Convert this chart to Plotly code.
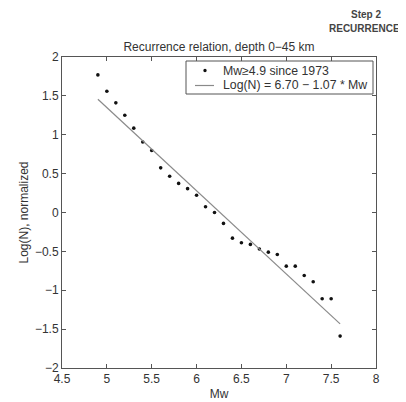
import plotly.graph_objects as go

mw = [4.9, 5.0, 5.1, 5.2, 5.3, 5.4, 5.5, 5.6, 5.7, 5.8, 5.9, 6.0, 6.1, 6.2,
      6.3, 6.4, 6.5, 6.6, 6.7, 6.8, 6.9, 7.0, 7.1, 7.2, 7.3, 7.4, 7.5, 7.6]
logn = [1.77, 1.56, 1.41, 1.25, 1.085, 0.907, 0.797, 0.574, 0.467, 0.374, 0.307, 0.222, 0.074, 0.0,
        -0.14, -0.33, -0.39, -0.41, -0.47, -0.51, -0.54, -0.69, -0.69, -0.81, -0.89, -1.11, -1.11, -1.59]
fit_a = 6.70
fit_b = 1.07
fit_x = [4.9, 7.6]
fit_y = [fit_a - fit_b * x for x in fit_x]

x_ticks = [4.5, 5, 5.5, 6, 6.5, 7, 7.5, 8]
x_tick_labels = ["4.5", "5", "5.5", "6", "6.5", "7", "7.5", "8"]
y_ticks = [-2, -1.5, -1, -0.5, 0, 0.5, 1, 1.5, 2]
y_tick_labels = ["\u22122", "\u22121.5", "\u22121", "\u22120.5", "0", "0.5", "1", "1.5", "2"]
legend_labels = ["Mw\u22654.9 since 1973", "Log(N) = 6.70 \u2212 1.07 * Mw"]

font = "Liberation Sans, Arial, Helvetica, sans-serif"
axcol = "#555555"
txtcol = "#333333"
# page body has an 8px margin; figure is sized to fit the remaining window
OFF = 8
W, H = 406 - OFF, 402 - OFF
# plot area in screen pixels
SX0, SX1, SY0, SY1 = 62, 376, 57, 368
L, R, T, B = SX0 - OFF, W - (SX1 - OFF), SY0 - OFF, H - (SY1 - OFF)
pw, ph = SX1 - SX0, SY1 - SY0
dot_col = "#111111"
line_col = "#8a8a8a"


def px(xpix):
    return (xpix - SX0) / pw


def py(ypix):
    return (SY1 - ypix) / ph


fig = go.Figure()
fig.add_trace(go.Scatter(x=mw, y=logn, mode="markers",
                         marker=dict(color=dot_col, size=3.6),
                         name=legend_labels[0], showlegend=False))
fig.add_trace(go.Scatter(x=fit_x, y=fit_y, mode="lines",
                         line=dict(color=line_col, width=1.2),
                         name=legend_labels[1], showlegend=False))

axis_common = dict(showgrid=False, zeroline=False, showline=True, linecolor=axcol, linewidth=1,
                   mirror="ticks", ticks="inside", ticklen=4, tickcolor=axcol, automargin=False,
                   tickfont=dict(family=font, size=12, color=txtcol))

fig.update_xaxes(range=[4.5, 8], tickvals=x_ticks, ticktext=x_tick_labels,
                 title=dict(text="Mw", font=dict(family=font, size=12, color=txtcol), standoff=4),
                 **axis_common)
fig.update_yaxes(range=[-2, 2], tickvals=y_ticks, ticktext=y_tick_labels,
                 title=dict(text="Log(N), normalized", font=dict(family=font, size=12, color=txtcol), standoff=3),
                 **axis_common)

shapes = [
    dict(type="rect", xref="paper", yref="paper", x0=px(186), x1=px(373), y0=py(94), y1=py(61),
         line=dict(color=axcol, width=1), fillcolor="white", layer="above"),
    dict(type="line", xref="paper", yref="paper", x0=px(195), x1=px(214), y0=py(85.5), y1=py(85.5),
         line=dict(color=line_col, width=1.2), layer="above"),
    dict(type="circle", xref="paper", yref="paper", x0=px(203.3), x1=px(206.7), y0=py(72.2), y1=py(68.8),
         line=dict(color=dot_col, width=0), fillcolor=dot_col, layer="above"),
]

annotations = [
    dict(text="<b>Step 2</b>", x=px(366), y=py(14), xref="paper", yref="paper",
         xanchor="center", yanchor="middle", showarrow=False,
         font=dict(family=font, size=10, color="#444444")),
    dict(text="<b>RECURRENCE</b>", x=px(364), y=py(28), xref="paper", yref="paper",
         xanchor="center", yanchor="middle", showarrow=False,
         font=dict(family=font, size=10, color="#444444")),
    dict(text=legend_labels[0], x=px(221), y=py(70.5), xref="paper", yref="paper",
         xanchor="left", yanchor="middle", showarrow=False,
         font=dict(family=font, size=12.3, color=txtcol)),
    dict(text=legend_labels[1], x=px(221), y=py(85), xref="paper", yref="paper",
         xanchor="left", yanchor="middle", showarrow=False,
         font=dict(family=font, size=12.3, color=txtcol)),
]

fig.update_layout(
    width=W, height=H,
    margin=dict(l=L, r=R, t=T, b=B),
    paper_bgcolor="white", plot_bgcolor="white",
    font=dict(family=font, size=12, color=txtcol),
    title=dict(text="Recurrence relation, depth 0\u221245 km", x=0.5, xref="paper",
               y=1 - (47 - OFF) / H, yref="container", yanchor="middle",
               font=dict(family=font, size=12, color=txtcol)),
    showlegend=False,
    shapes=shapes,
    annotations=annotations,
)

fig.write_html("out.html")
